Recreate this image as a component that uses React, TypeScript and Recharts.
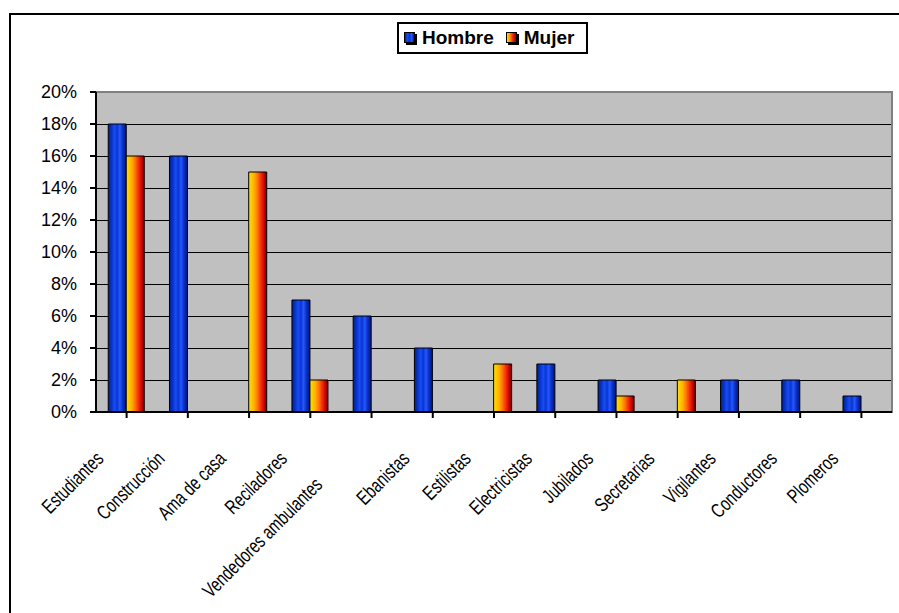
import { BarChart, Bar, XAxis, YAxis, CartesianGrid, Legend, ReferenceArea } from 'recharts';

const CATEGORIES = [
  'Estudiantes', 'Construcción', 'Ama de casa', 'Reciladores', 'Vendedores ambulantes',
  'Ebanistas', 'Estilistas', 'Electricistas', 'Jubilados', 'Secretarias',
  'Vigilantes', 'Conductores', 'Plomeros',
];
const HOMBRE = [18, 16, null, 7, 6, 4, null, 3, 2, null, 2, 2, 1];
const MUJER = [16, null, 15, 2, null, null, 3, null, 1, 2, null, null, null];
const Y_TICKS = [0, 2, 4, 6, 8, 10, 12, 14, 16, 18, 20];

const SERIES = [
  { key: 'hombre', label: 'Hombre', fill: 'url(#gHombre)' },
  { key: 'mujer', label: 'Mujer', fill: 'url(#gMujer)' },
];

const data = CATEGORIES.map((c, i) => ({ name: c, hombre: HOMBRE[i], mujer: MUJER[i] }));

const FONT = '"Liberation Sans", Arial, sans-serif';

function XTick({ x, y, payload }: any) {
  const label: string = payload.value;
  // the long label sits further down its own direction
  const shift = label.length > 14 ? 26 : 0;
  return (
    <g transform={`translate(${x - 22 - shift},${y + 40 + shift})`}>
      <text
        textAnchor="end"
        transform="rotate(-45) scale(0.74,1)"
        fontSize={20}
        fontFamily={FONT}
        fill="#000"
      >
        {label}
      </text>
    </g>
  );
}

function LegendBox() {
  const swatch = (bg: string) => (
    <span style={{ position: 'relative', display: 'inline-block', width: 12, height: 12, marginRight: 6 }}>
      <span style={{ position: 'absolute', left: 2, top: 2, width: 11, height: 11, background: '#000' }} />
      <span style={{ position: 'absolute', left: 0, top: 0, width: 9, height: 9, border: '1px solid #000', background: bg }} />
    </span>
  );
  return (
    <div
      style={{
        boxSizing: 'border-box', width: 191, height: 32, border: '2px solid #000', background: '#fff',
        display: 'flex', alignItems: 'center', paddingLeft: 5, fontFamily: FONT, fontWeight: 700, fontSize: 19,
      }}
    >
      {swatch('linear-gradient(90deg,#001e96,#1a4cf0,#0836d4,#2656ff,#001480)')}
      <span style={{ marginRight: 12 }}>Hombre</span>
      {swatch('linear-gradient(90deg,#ffe000,#ff9000,#f02000,#900000)')}
      <span>Mujer</span>
    </div>
  );
}

export default function App() {
  return (
    <div style={{ position: 'relative', width: 899, height: 613, overflow: 'hidden', background: '#fff' }}>
      <style>{'body{margin:0}'}</style>
      <div style={{ position: 'absolute', left: 9, top: 13, width: 1000, height: 1000, border: '2px solid #000' }} />
      <div style={{ position: 'absolute', left: 0, top: 0 }}>
        <BarChart
          width={899}
          height={613}
          data={data}
          margin={{ top: 92, right: 7, bottom: 0, left: 0 }}
          barCategoryGap="20%"
          barGap={0}
        >
          <defs>
            <linearGradient id="gHombre" x1="0" y1="0" x2="1" y2="0">
              <stop offset="0" stopColor="#001e96" />
              <stop offset="0.18" stopColor="#0634c8" />
              <stop offset="0.35" stopColor="#1a4cf0" />
              <stop offset="0.5" stopColor="#0836d4" />
              <stop offset="0.64" stopColor="#2656ff" />
              <stop offset="0.8" stopColor="#0a32c0" />
              <stop offset="1" stopColor="#001480" />
            </linearGradient>
            <linearGradient id="gMujer" x1="0" y1="0" x2="1" y2="0">
              <stop offset="0" stopColor="#ffe000" />
              <stop offset="0.3" stopColor="#ffb000" />
              <stop offset="0.5" stopColor="#ff7000" />
              <stop offset="0.72" stopColor="#f02000" />
              <stop offset="0.9" stopColor="#b00000" />
              <stop offset="1" stopColor="#600000" />
            </linearGradient>
          </defs>
          <CartesianGrid vertical={false} stroke="#000" strokeWidth={1} fill="#c0c0c0" fillOpacity={1} shapeRendering="crispEdges" />
          <ReferenceArea y1={0} y2={20} fill="none" stroke="#808080" strokeWidth={2} />
          <XAxis
            dataKey="name"
            height={201}
            interval={0}
            tick={<XTick />}
            tickSize={6}
            axisLine={{ stroke: '#000', strokeWidth: 2 }}
            tickLine={{ stroke: '#000', strokeWidth: 2 }}
          />
          <YAxis
            width={96}
            domain={[0, 20]}
            ticks={Y_TICKS}
            interval={0}
            tickFormatter={(v: number) => `${v}%`}
            tickSize={6}
            tickMargin={13}
            tick={{ fontSize: 18, fontFamily: FONT, fill: '#000' }}
            axisLine={{ stroke: '#000', strokeWidth: 2 }}
            tickLine={{ stroke: '#000', strokeWidth: 2 }}
          />
          <Legend
            verticalAlign="middle"
            align="center"
            layout="horizontal"
            content={() => <LegendBox />}
            wrapperStyle={{ top: 22, left: 397, width: 191, height: 32 }}
          />
          {SERIES.map(s => (
            <Bar key={s.key} dataKey={s.key} name={s.label} fill={s.fill} stroke="#000" strokeWidth={1} isAnimationActive={false} />
          ))}
        </BarChart>
      </div>
    </div>
  );
}
